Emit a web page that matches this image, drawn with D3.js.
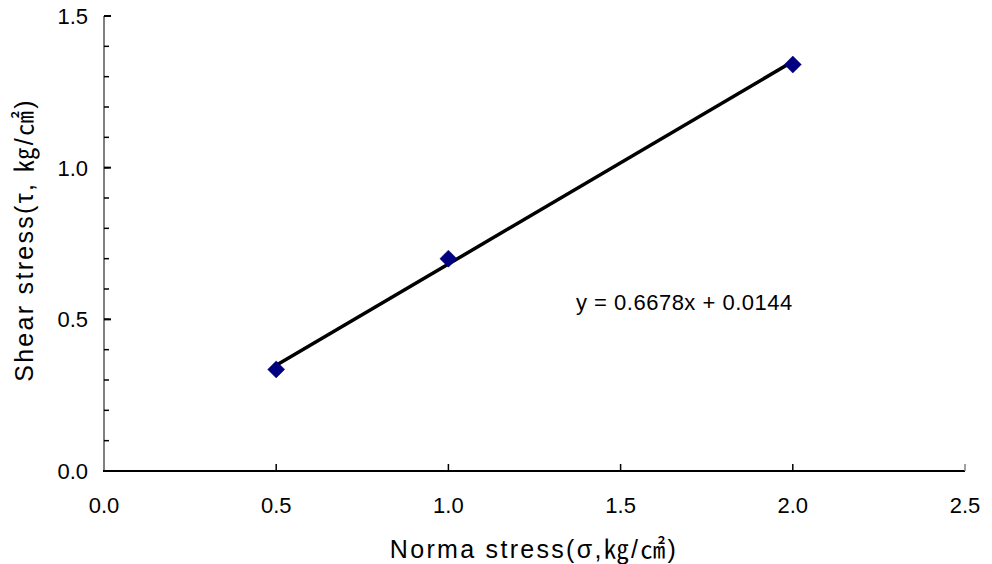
<!DOCTYPE html>
<html>
<head>
<meta charset="utf-8">
<title>shear stress</title>
<script src="https://cdn.jsdelivr.net/npm/d3@7"></script>
<style>
  body { margin: 0; background: #fff; }
  text { font-family: "Liberation Sans", Arial, "Noto Sans CJK KR", sans-serif; fill: #000; }
</style>
</head>
<body>
<svg id="chart" width="992" height="564"></svg>
<script>
// data
var normalStress = [0.5, 1.0, 2.0];
var shearStress = [0.335, 0.70, 1.34];
var slope = 0.6678, intercept = 0.0144;
var xTicks = [0, 0.5, 1.0, 1.5, 2.0, 2.5];
var yTicks = [0, 0.5, 1.0, 1.5];
var yMinorTicks = d3.range(0, 15).map(function(i) { return i / 10; });
var xTitle = "Norma stress(σ,㎏/㎠)";
var yTitle = "Shear stress(τ, ㎏/㎠)";
var eqLabel = "y = 0.6678x + 0.0144";

var svg = d3.select("#chart");
var plotLeft = 104, plotRight = 965, plotTop = 16, plotBottom = 471;

var x = d3.scaleLinear().domain([0, 2.5]).range([plotLeft, plotRight]);
var y = d3.scaleLinear().domain([0, 1.5]).range([plotBottom, plotTop]);

// y axis (gray line, ticks pointing inward)
svg.append("line")
  .attr("x1", plotLeft).attr("x2", plotLeft)
  .attr("y1", y(1.5)).attr("y2", y(0))
  .attr("stroke", "#808080").attr("stroke-width", 2);
svg.selectAll("line.yminor").data(yMinorTicks).enter().append("line")
  .attr("class", "yminor")
  .attr("x1", plotLeft).attr("x2", plotLeft + 5)
  .attr("y1", function(d) { return y(d); })
  .attr("y2", function(d) { return y(d); })
  .attr("stroke", "#000").attr("stroke-width", 1.5);
svg.selectAll("line.ymajor").data(yTicks).enter().append("line")
  .attr("class", "ymajor")
  .attr("x1", plotLeft).attr("x2", plotLeft + 7)
  .attr("y1", function(d) { return y(d); })
  .attr("y2", function(d) { return y(d); })
  .attr("stroke", "#000").attr("stroke-width", 2);
svg.selectAll("text.ylab").data(yTicks).enter().append("text")
  .attr("class", "ylab")
  .attr("x", 88)
  .attr("y", function(d) { return y(d) + 8; })
  .attr("text-anchor", "end")
  .attr("font-size", 22)
  .text(function(d) { return d3.format(".1f")(d); });

// x axis (black line, ticks pointing up)
svg.append("line")
  .attr("x1", plotLeft - 1).attr("x2", plotRight)
  .attr("y1", plotBottom).attr("y2", plotBottom)
  .attr("stroke", "#000").attr("stroke-width", 2);
svg.selectAll("line.xtick").data(xTicks.slice(1)).enter().append("line")
  .attr("class", "xtick")
  .attr("x1", function(d) { return x(d); })
  .attr("x2", function(d) { return x(d); })
  .attr("y1", plotBottom).attr("y2", plotBottom - 7)
  .attr("stroke", function(d) { return d === 2.5 ? "#808080" : "#000"; })
  .attr("stroke-width", 1.5);
svg.selectAll("text.xlab").data(xTicks).enter().append("text")
  .attr("class", "xlab")
  .attr("x", function(d) { return x(d); })
  .attr("y", 513)
  .attr("text-anchor", "middle")
  .attr("font-size", 22)
  .text(function(d) { return d3.format(".1f")(d); });

// titles
svg.append("text")
  .attr("x", 534).attr("y", 558)
  .attr("text-anchor", "middle")
  .attr("font-size", 25)
  .attr("letter-spacing", 2.3)
  .text(xTitle);
svg.append("text")
  .attr("transform", "translate(33,240) rotate(-90)")
  .attr("text-anchor", "middle")
  .attr("font-size", 25)
  .attr("letter-spacing", 2.3)
  .text(yTitle);

// trend line
var x0 = d3.min(normalStress), x1 = d3.max(normalStress);
svg.append("line")
  .attr("x1", x(x0)).attr("y1", y(slope * x0 + intercept))
  .attr("x2", x(x1)).attr("y2", y(slope * x1 + intercept))
  .attr("stroke", "#000").attr("stroke-width", 3.5);

// markers
svg.selectAll("path.pt").data(normalStress).enter().append("path")
  .attr("class", "pt")
  .attr("d", "M0,-8.5L8.5,0L0,8.5L-8.5,0Z")
  .attr("transform", function(d, i) {
    return "translate(" + x(d) + "," + y(shearStress[i]) + ")";
  })
  .attr("fill", "#000080")
  .attr("stroke", "#000060").attr("stroke-width", 0.5);

// equation
svg.append("text")
  .attr("x", 576).attr("y", 310)
  .attr("font-size", 22)
  .attr("letter-spacing", 0.5)
  .text(eqLabel);
</script>
</body>
</html>
